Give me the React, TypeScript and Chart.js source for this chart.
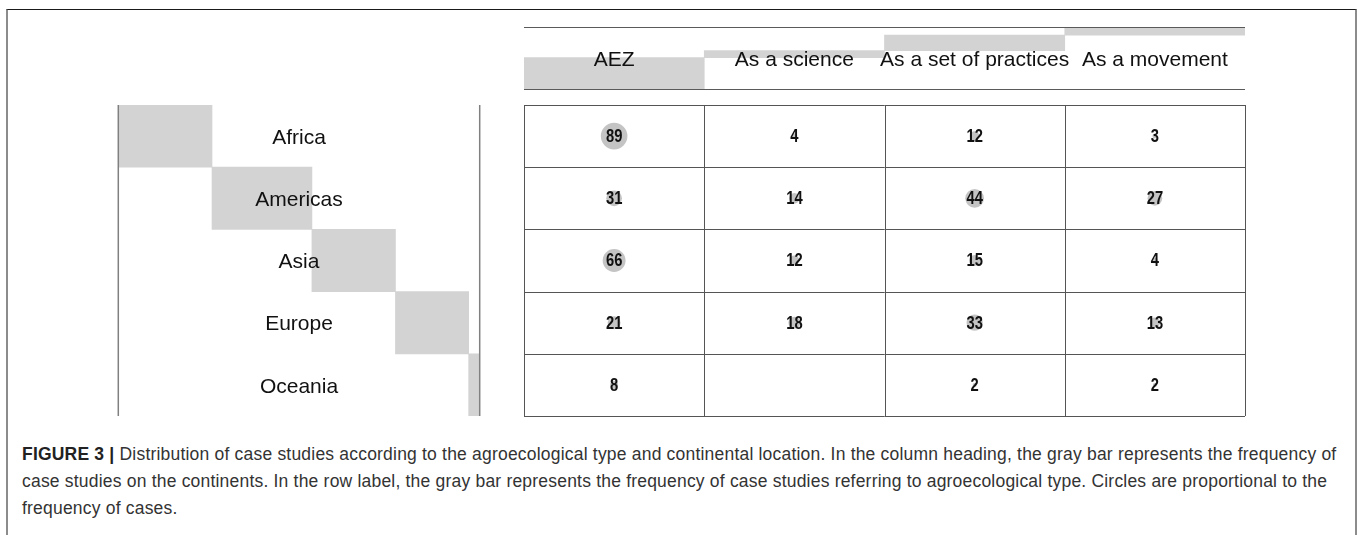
import React, { useEffect, useRef } from "react";
import { Chart, registerables } from "chart.js";

Chart.register(...registerables);

// ---------- data ----------
const continents = ["Africa", "Americas", "Asia", "Europe", "Oceania"];
const types = ["AEZ", "As a science", "As a set of practices", "As a movement"];
const aez = [89, 31, 66, 21, 8];
const science = [4, 14, 12, 18, 0];
const practices = [12, 44, 15, 33, 2];
const movement = [3, 27, 4, 13, 2];
const captionBold = "FIGURE 3 |";
const captionLines = [
  " Distribution of case studies according to the agroecological type and continental location. In the column heading, the gray bar represents the frequency of",
  "case studies on the continents. In the row label, the gray bar represents the frequency of case studies referring to agroecological type. Circles are proportional to the",
  "frequency of cases.",
];

// ---------- derived ----------
const series = [aez, science, practices, movement];
const rowTotals = continents.map((_, i) => series.reduce((s, col) => s + col[i], 0));
const colTotals = series.map((col) => col.reduce((s, v) => s + v, 0));
const grandTotal = rowTotals.reduce((s, v) => s + v, 0);
const cumulative = (arr: number[]) => {
  let acc = 0;
  return arr.map((v) => {
    const r = [acc, acc + v];
    acc += v;
    return r;
  });
};
const colRanges = cumulative(colTotals);
const rowRanges = cumulative(rowTotals);
const RADIUS_K = 1.41;
const bubbleData: any[] = [];
continents.forEach((c, i) =>
  series.forEach((col, j) =>
    bubbleData.push({ x: types[j], y: c, r: RADIUS_K * Math.sqrt(col[i]), v: col[i] })
  )
);

const BAR_GRAY = "#d3d3d3";
const CIRCLE_GRAY = "#c4c4c4";
const LABEL_FONT = '21px "Liberation Sans", Arial, sans-serif';

const baseOptions = (extra: any) => ({
  animation: false,
  responsive: false,
  maintainAspectRatio: false,
  events: [],
  plugins: { legend: { display: false }, tooltip: { enabled: false } },
  ...extra,
});

function ChartCanvas({ make, left, top, width, height }: any) {
  const ref = useRef<HTMLCanvasElement>(null);
  useEffect(() => {
    const chart = new Chart(ref.current as HTMLCanvasElement, make());
    return () => chart.destroy();
  }, []);
  return (
    <canvas
      ref={ref}
      width={width}
      height={height}
      style={{ position: "absolute", left, top, width, height }}
    />
  );
}

// Header: stacked column totals + column names
const headerConfig = () => ({
  type: "bar",
  data: {
    labels: types,
    datasets: [
      {
        data: colRanges,
        backgroundColor: BAR_GRAY,
        borderWidth: 0,
        barPercentage: 1,
        categoryPercentage: 1,
      },
    ],
  },
  options: baseOptions({
    layout: { autoPadding: false, padding: { top: 2, bottom: 2, left: 0, right: 0 } },
    scales: {
      x: { display: false },
      y: { display: false, min: 0, max: grandTotal },
    },
  }),
  plugins: [
    {
      id: "headerDecor",
      afterDatasetsDraw(chart: any) {
        const { ctx, chartArea } = chart;
        const x = chart.scales.x;
        ctx.save();
        ctx.strokeStyle = "#5a5a5a";
        ctx.lineWidth = 1.2;
        ctx.beginPath();
        ctx.moveTo(chartArea.left, chartArea.top - 0.5);
        ctx.lineTo(chartArea.right, chartArea.top - 0.5);
        ctx.moveTo(chartArea.left, chartArea.bottom + 0.5);
        ctx.lineTo(chartArea.right, chartArea.bottom + 0.5);
        ctx.stroke();
        ctx.font = LABEL_FONT;
        ctx.fillStyle = "#111";
        ctx.textAlign = "center";
        ctx.textBaseline = "middle";
        const yMid = (chartArea.top + chartArea.bottom) / 2 + 2;
        types.forEach((t, i) => ctx.fillText(t, x.getPixelForValue(i), yMid));
        ctx.restore();
      },
    },
  ],
});

// Row panel: stacked row totals + continent names
const rowConfig = () => ({
  type: "bar",
  data: {
    labels: continents,
    datasets: [
      {
        data: rowRanges,
        backgroundColor: BAR_GRAY,
        borderWidth: 0,
        barPercentage: 1,
        categoryPercentage: 1,
      },
    ],
  },
  options: baseOptions({
    indexAxis: "y",
    layout: { autoPadding: false, padding: { top: 0, bottom: 0, left: 2, right: 2 } },
    scales: {
      x: { display: false, min: 0, max: grandTotal },
      y: { display: false },
    },
  }),
  plugins: [
    {
      id: "rowDecor",
      afterDatasetsDraw(chart: any) {
        const { ctx, chartArea } = chart;
        const y = chart.scales.y;
        ctx.save();
        ctx.strokeStyle = "#808080";
        ctx.lineWidth = 1.5;
        ctx.beginPath();
        ctx.moveTo(chartArea.left - 0.7, chartArea.top);
        ctx.lineTo(chartArea.left - 0.7, chartArea.bottom);
        ctx.moveTo(chartArea.right + 0.7, chartArea.top);
        ctx.lineTo(chartArea.right + 0.7, chartArea.bottom);
        ctx.stroke();
        ctx.font = LABEL_FONT;
        ctx.fillStyle = "#111";
        ctx.textAlign = "center";
        ctx.textBaseline = "middle";
        const xMid = (chartArea.left + chartArea.right) / 2;
        continents.forEach((c, i) => ctx.fillText(c, xMid, y.getPixelForValue(i) + 2));
        ctx.restore();
      },
    },
  ],
});

// Matrix: bubbles proportional to frequency
const matrixConfig = () => ({
  type: "bubble",
  data: {
    datasets: [
      {
        data: bubbleData,
        backgroundColor: CIRCLE_GRAY,
        borderWidth: 0,
      },
    ],
  },
  options: baseOptions({
    layout: { autoPadding: false, padding: 4 },
    clip: false,
    scales: {
      x: { type: "category", labels: types, offset: true, display: false },
      y: { type: "category", labels: continents, offset: true, display: false },
    },
  }),
  plugins: [
    {
      id: "matrixGrid",
      beforeDatasetsDraw(chart: any) {
        const { ctx } = chart;
        const x = chart.scales.x;
        const y = chart.scales.y;
        ctx.save();
        ctx.strokeStyle = "#555";
        ctx.lineWidth = 1;
        ctx.beginPath();
        const top = y.getPixelForValue(-0.5);
        const bottom = y.getPixelForValue(continents.length - 0.5);
        const left = x.getPixelForValue(-0.5);
        const right = x.getPixelForValue(types.length - 0.5);
        for (let j = 0; j <= types.length; j++) {
          const px = Math.round(x.getPixelForValue(j - 0.5)) + 0.5;
          ctx.moveTo(px, top);
          ctx.lineTo(px, bottom);
        }
        for (let i = 0; i <= continents.length; i++) {
          const py = Math.round(y.getPixelForValue(i - 0.5)) + 0.5;
          ctx.moveTo(left, py);
          ctx.lineTo(right, py);
        }
        ctx.stroke();
        ctx.restore();
      },
      afterDatasetsDraw(chart: any) {
        const { ctx } = chart;
        const meta = chart.getDatasetMeta(0);
        ctx.save();
        ctx.font = 'bold 18px "Liberation Sans", Arial, sans-serif';
        ctx.fillStyle = "#111";
        ctx.textAlign = "center";
        ctx.textBaseline = "middle";
        meta.data.forEach((el: any, k: number) => {
          const v = bubbleData[k].v;
          if (!v) return;
          ctx.save();
          ctx.translate(el.x, el.y + 1);
          ctx.scale(0.82, 1);
          ctx.fillText(String(v), 0, 0);
          ctx.restore();
        });
        ctx.restore();
      },
    },
  ],
});

export default function App() {
  return (
    <div
      style={{
        position: "absolute",
        left: 0,
        top: 0,
        width: 1357,
        height: 535,
        overflow: "hidden",
        background: "#fff",
      }}
    >
      <div
        style={{
          position: "absolute",
          left: 6,
          top: 9,
          width: 1347,
          height: 700,
          borderTop: "1.5px solid #1a1a1a",
          borderLeft: "2px solid #8c8c8c",
          borderRight: "2px solid #8c8c8c",
        }}
      />
      <ChartCanvas make={headerConfig} left={524} top={26} width={721} height={65} />
      <ChartCanvas make={rowConfig} left={117} top={105} width={364} height={311} />
      <ChartCanvas make={matrixConfig} left={520} top={101} width={729} height={319} />
      <div
        style={{
          position: "absolute",
          left: 22,
          top: 441,
          fontFamily: '"Liberation Sans", Arial, sans-serif',
          fontSize: 17.5,
          letterSpacing: "0.2px",
          lineHeight: "27px",
          color: "#333",
          whiteSpace: "nowrap",
        }}
      >
        <div>
          <b style={{ color: "#222" }}>{captionBold}</b>
          {captionLines[0]}
        </div>
        <div>{captionLines[1]}</div>
        <div>{captionLines[2]}</div>
      </div>
    </div>
  );
}
